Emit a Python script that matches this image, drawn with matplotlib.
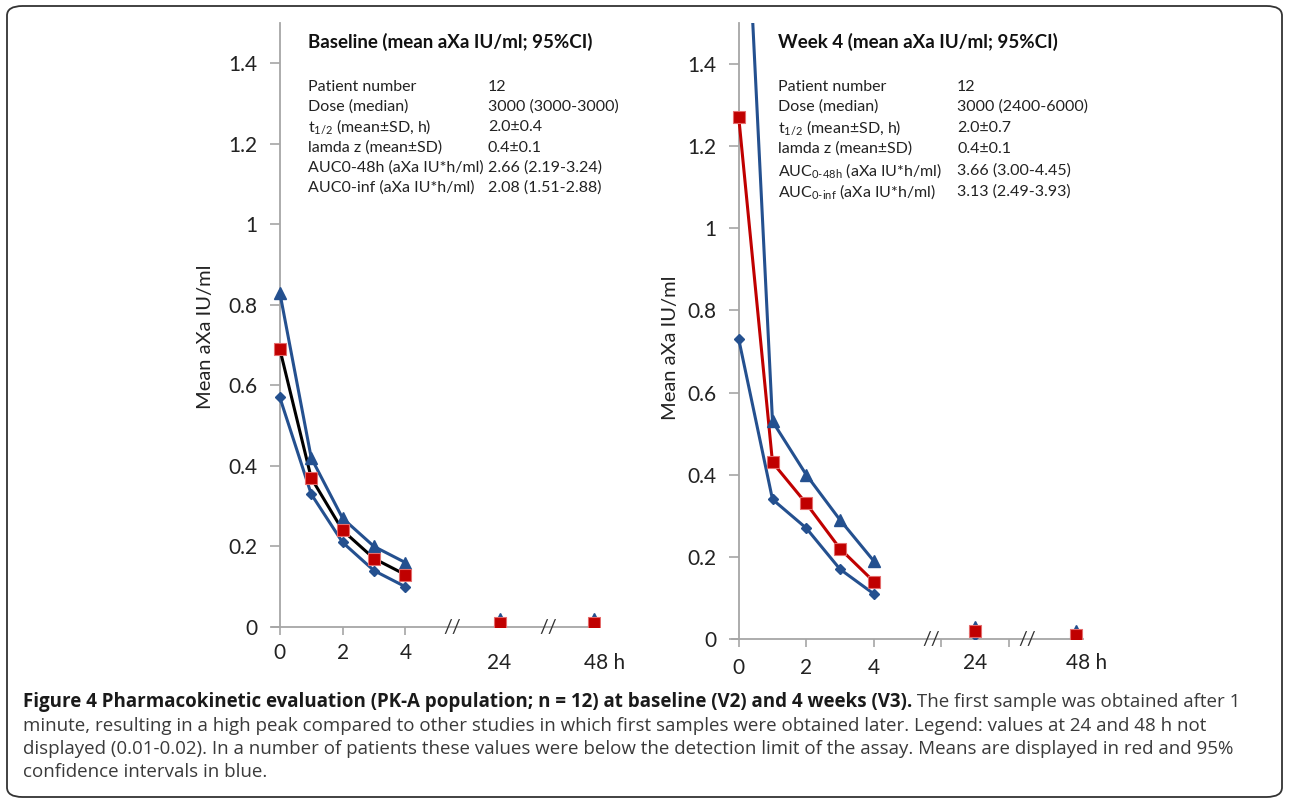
import numpy as np
import matplotlib
matplotlib.use("Agg")
import matplotlib.pyplot as plt
from matplotlib.patches import FancyBboxPatch
from matplotlib.ticker import FuncFormatter

plt.rcParams['font.family'] = ['Lato', 'DejaVu Sans']
plt.rcParams['mathtext.fontset'] = 'custom'
plt.rcParams['mathtext.rm'] = 'Lato'
plt.rcParams['mathtext.it'] = 'Lato:italic'
plt.rcParams['mathtext.bf'] = 'Lato:bold'

# ----------------------------
# Data
# ----------------------------
hours = [0, 1, 2, 3, 4, 24, 48]

base_mean = [0.69, 0.37, 0.24, 0.17, 0.13, 0.01, 0.01]
base_lo = [0.57, 0.33, 0.21, 0.14, 0.10, 0.01, 0.01]
base_hi = [0.83, 0.42, 0.27, 0.20, 0.16, 0.02, 0.02]

wk4_mean = [1.27, 0.43, 0.33, 0.22, 0.14, 0.02, 0.01]
wk4_lo = [0.73, 0.34, 0.27, 0.17, 0.11, 0.01, 0.01]
wk4_hi = [2.19, 0.53, 0.40, 0.29, 0.19, 0.03, 0.02]

yticks = [0, 0.2, 0.4, 0.6, 0.8, 1.0, 1.2, 1.4]
early_ticks = [0, 2, 4]
late_labels = {24: "24", 48: "48 h"}

base_title = "Baseline (mean aXa IU/ml; 95%CI)"
base_rows = [
    ("Patient number", "12"),
    ("Dose (median)", "3000 (3000-3000)"),
    (r"t$_{1/2}$ (mean±SD, h)", "2.0±0.4"),
    ("lamda z (mean±SD)", "0.4±0.1"),
    ("AUC0-48h (aXa IU*h/ml)", "2.66 (2.19-3.24)"),
    ("AUC0-inf (aXa IU*h/ml)", "2.08 (1.51-2.88)"),
]

wk4_title = "Week 4 (mean aXa IU/ml; 95%CI)"
wk4_rows = [
    ("Patient number", "12"),
    ("Dose (median)", "3000 (2400-6000)"),
    (r"t$_{1/2}$ (mean±SD, h)", "2.0±0.7"),
    ("lamda z (mean±SD)", "0.4±0.1"),
    (r"AUC$_{\text{0-48h}}$ (aXa IU*h/ml)", "3.66 (3.00-4.45)"),
    (r"AUC$_{\text{0-inf}}$ (aXa IU*h/ml)", "3.13 (2.49-3.93)"),
]

caption_bold = ("Figure 4 Pharmacokinetic evaluation (PK-A population; n = 12) "
                "at baseline (V2) and 4 weeks (V3).")
caption_lines = [
    " The first sample was obtained after 1",
    "minute, resulting in a high peak compared to other studies in which first "
    "samples were obtained later. Legend: values at 24 and 48 h not",
    "displayed (0.01-0.02). In a number of patients these values were below the "
    "detection limit of the assay. Means are displayed in red and 95%",
    "confidence intervals in blue.",
]

BLUE = "#24508f"
RED = "#c00000"
GRAY = "#a6a6a6"

W, H = 1289, 801


def broken_x(h):
    # compressed time axis: 0-4 h linear, then 24 h and 48 h after breaks
    return {24: 7, 48: 10}.get(h, h)


def px_rect(x0, y0, x1, y1):
    return [x0 / W, 1 - y1 / H, (x1 - x0) / W, (y1 - y0) / H]


def draw_panel(ax, mean, lo, hi, mean_line, breaks, minor):
    xs = [broken_x(h) for h in hours]
    n = 5  # points joined by a line (0..4 h)
    ax.plot(xs[:n], lo[:n], color=BLUE, lw=2.2, zorder=3)
    ax.plot(xs[:n], hi[:n], color=BLUE, lw=2.2, zorder=3)
    ax.plot(xs[:n], mean[:n], color=mean_line, lw=2.2, zorder=4)
    ax.plot(xs, lo, 'D', color=BLUE, ms=5, zorder=5, ls='none')
    ax.plot(xs, hi, '^', color=BLUE, ms=8, zorder=5, ls='none')
    ax.plot(xs, mean, 's', color=RED, mec="#e46c6c", mew=0.8, ms=9, zorder=6, ls='none')

    ax.set_ylim(0, 1.5)
    ax.spines['top'].set_visible(False)
    ax.spines['right'].set_visible(False)
    ax.spines['left'].set_position(('data', 0))
    for s in ('left', 'bottom'):
        ax.spines[s].set_color(GRAY)
        ax.spines[s].set_linewidth(1.3)
    ax.set_yticks(yticks)
    ax.yaxis.set_major_formatter(FuncFormatter(lambda v, p: f"{v:g}"))
    ax.tick_params(axis='y', direction='out', length=7, width=1.2, color=GRAY,
                   labelsize=15, pad=9, labelcolor="#222222")
    ax.set_xticks(early_ticks)
    ax.set_xticks(minor, minor=True)
    ax.set_xticklabels([])
    ax.tick_params(axis='x', which='both', direction='out', length=6, width=1.2, color=GRAY)
    ax.set_ylabel("Mean aXa IU/ml", fontsize=14.5, color="#222222")
    for b in breaks:
        ax.text(b, 0, "//", ha='center', va='center', fontsize=14, color="#333333",
                transform=ax.get_xaxis_transform(), zorder=7)


fig = plt.figure(figsize=(W / 100, H / 100), dpi=100)

axL = fig.add_axes(px_rect(272, 23, 600, 627))
axL.set_xlim(-0.25, 10.2)
draw_panel(axL, base_mean, base_lo, base_hi, "black", [5.5, 8.55], [])
axL.yaxis.set_label_coords(214 / W, 1 - 337 / H, transform=fig.transFigure)

axR = fig.add_axes(px_rect(732, 23, 1083, 639))
axR.set_xlim(-0.2, 10.2)
draw_panel(axR, wk4_mean, wk4_lo, wk4_hi, RED, [5.7, 8.55], [6, 8])
axR.yaxis.set_label_coords(679 / W, 1 - 348 / H, transform=fig.transFigure)

# x labels, placed by pixel row as in the source figure
for ax, y_early, y_late in ((axL, 653, 663), (axR, 668, 663)):
    bottom_px = ax.get_position().y0 * H
    for t in early_ticks:
        ax.annotate(str(t), (t, 0), xycoords=('data', 'axes fraction'),
                    xytext=(0, -(y_early - (H - bottom_px))), textcoords='offset pixels',
                    ha='center', va='center', fontsize=15, color="#222222")
    for h, lab in late_labels.items():
        ax.annotate(lab, (broken_x(h), 0), xycoords=('data', 'axes fraction'),
                    xytext=(-10 if lab.endswith('h') else 0, -(y_late - (H - bottom_px))),
                    textcoords='offset pixels',
                    ha='left' if lab.endswith('h') else 'center', va='center',
                    fontsize=15, color="#222222")

# info blocks
def info_block(x0, x1, title, rows, row_y):
    fig.text(x0 / W, 1 - 42 / H, title, fontsize=13.5, fontweight='bold',
             va='center', ha='left', color="#111111")
    for (k, v), y in zip(rows, row_y):
        fig.text(x0 / W, 1 - y / H, k, fontsize=11.5, va='center', ha='left', color="#222222")
        fig.text(x1 / W, 1 - y / H, v, fontsize=11.5, va='center', ha='left', color="#222222")


info_block(308, 488, base_title, base_rows, [87, 107, 127, 148, 168, 188])
info_block(778, 957, wk4_title, wk4_rows, [87, 107, 128, 149, 171, 192])

# caption
cap_family = ['Open Sans', 'DejaVu Sans']
cap_y = [702, 726, 749, 772]
cap_x0 = 23
target_w = 1238 - cap_x0
renderer = fig.canvas.get_renderer()

size = 12.0
tb = fig.text(cap_x0 / W, 1 - cap_y[0] / H, caption_bold, fontsize=size, family=cap_family,
              fontweight='bold', va='center', ha='left', color="#1a1a1a")
tr = fig.text(0, 1 - cap_y[0] / H, caption_lines[0], fontsize=size, family=cap_family,
              va='center', ha='left', color="#3a3a3a")
wb = tb.get_window_extent(renderer).width
wr = tr.get_window_extent(renderer).width
size = size * target_w / (wb + wr)
tb.set_fontsize(size)
tr.set_fontsize(size)
bb = tb.get_window_extent(renderer)
tr.set_x(bb.x1 / W)
for line, y in zip(caption_lines[1:], cap_y[1:]):
    fig.text(cap_x0 / W, 1 - y / H, line, fontsize=size, family=cap_family,
             va='center', ha='left', color="#3a3a3a")

# rounded frame around whole figure
frame = FancyBboxPatch((7 / W, 4 / H), (W - 14) / W, (H - 10) / H,
                       boxstyle="round,pad=0,rounding_size=0.012",
                       transform=fig.transFigure, fill=False, ec="#333333", lw=1.3)
fig.patches.append(frame)

fig.savefig("out.png", dpi=100)
